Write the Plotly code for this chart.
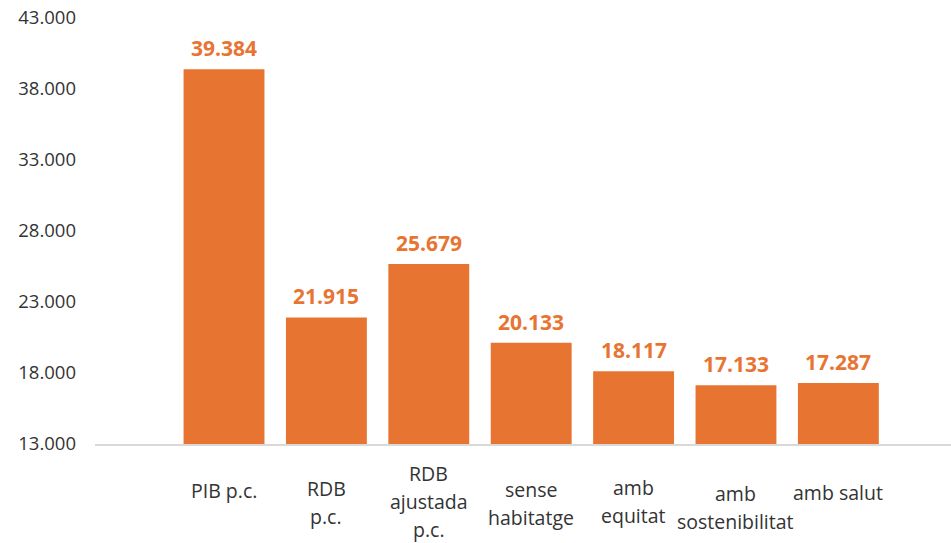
import plotly.graph_objects as go

categories = ["PIB p.c.", "RDB p.c.", "RDB ajustada p.c.", "sense habitatge",
              "amb equitat", "amb sostenibilitat", "amb salut"]
category_lines = [["PIB p.c."], ["RDB", "p.c."], ["RDB", "ajustada", "p.c."],
                  ["sense", "habitatge"], ["amb", "equitat"],
                  ["amb", "sostenibilitat"], ["amb salut"]]
values = [39384, 21915, 25679, 20133, 18117, 17133, 17287]
y_ticks = [13000, 18000, 23000, 28000, 33000, 38000, 43000]
BASE = 13000

ORANGE = "#E87432"
FONT = "Open Sans"

# pixel offsets (below the axis line) of the first label line per category
first_line_offset = [46, 44, 29, 45, 43, 49, 48]
line_step = 28

fig = go.Figure(go.Bar(
    x=categories, y=[v - BASE for v in values], base=BASE,
    marker_color=ORANGE, marker_line_width=0, hoverinfo="skip",
))

annotations = []
for c, v in zip(categories, values):
    annotations.append(dict(
        x=c, y=v, xref="x", yref="y", text="{:,}".format(v).replace(",", "."),
        showarrow=False, yanchor="middle", yshift=21,
        font=dict(family=FONT, size=21, color=ORANGE, weight="bold"),
    ))
for c, lines, off in zip(categories, category_lines, first_line_offset):
    for i, ln in enumerate(lines):
        annotations.append(dict(
            x=c, y=0, xref="x", yref="paper", text=ln, showarrow=False,
            yanchor="middle", yshift=-(off + i * line_step),
            font=dict(family=FONT, size=19.5, color="#333333"),
        ))

fig.update_layout(
    width=951, height=543,
    margin=dict(l=95, r=0, t=18, b=99),
    paper_bgcolor="white", plot_bgcolor="white",
    bargap=0.21, showlegend=False,
    annotations=annotations,
    xaxis=dict(
        range=[-1.26, 7.10], showticklabels=False, ticks="",
        showline=True, linecolor="#D9D9D9", linewidth=1.5,
        showgrid=False, zeroline=False, automargin=False,
    ),
    yaxis=dict(
        range=[13000, 43000], tickmode="array", tickvals=y_ticks,
        ticktext=["{:,}".format(t).replace(",", ".") for t in y_ticks],
        showgrid=False, zeroline=False, showline=False, ticks="",
        ticklabelstandoff=18, automargin=False, ticklabeloverflow="allow",
        tickfont=dict(family=FONT, size=18.5, color="#333333"),
    ),
)

fig.write_html(
    "out.html",
    config={"displayModeBar": False},
    post_script="document.body.style.margin='0';document.body.style.overflow='hidden';",
)
